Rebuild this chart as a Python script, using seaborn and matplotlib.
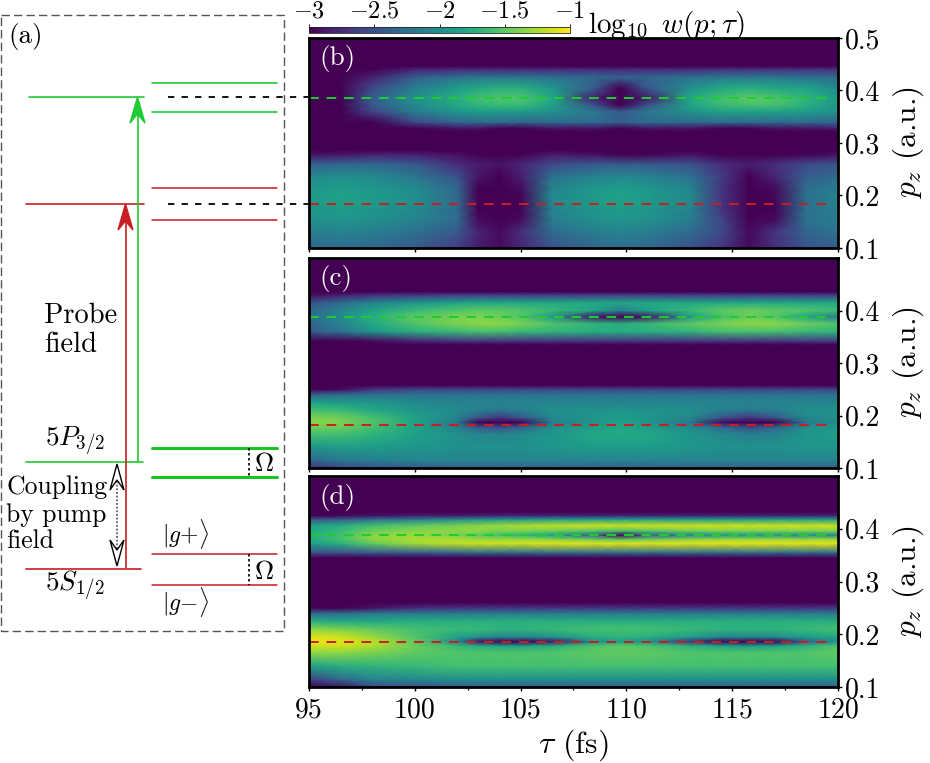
import matplotlib
matplotlib.use("Agg")
import matplotlib.pyplot as plt
import seaborn as sns

W, H = 930, 763

# delay knots shared by the three maps (fs)
tau = [95, 96.5, 98, 100, 102, 103, 104, 105, 106.5, 108.5, 109.7, 111, 113, 114.5, 115.8, 117, 118.5, 120]
off = [-4.0] * len(tau)

# --- panel (b): log10 w, one row per p_z knot ---
b_p = [0.10, 0.13, 0.155, 0.175, 0.19, 0.215, 0.235, 0.26, 0.278, 0.286, 0.322, 0.328, 0.34, 0.36, 0.372, 0.385,
       0.405, 0.425, 0.44, 0.447, 0.50]
b_z = [
    [-2.35, -2.3, -2.35, -2.45, -2.65, -2.85, -2.95, -2.8, -2.5, -2.35, -2.3, -2.35, -2.5, -2.7, -2.95, -2.75, -2.5, -2.4],
    [-2.15, -2.1, -2.15, -2.25, -2.45, -2.8, -2.95, -2.75, -2.3, -2.15, -2.1, -2.15, -2.3, -2.55, -2.95, -2.7, -2.35, -2.25],
    [-2.0, -1.95, -2.0, -2.1, -2.3, -2.95, -3.4, -2.95, -2.15, -2.0, -1.95, -2.0, -2.15, -2.6, -3.4, -2.95, -2.25, -2.15],
    [-1.95, -1.9, -1.95, -2.05, -2.3, -3.15, -3.6, -2.98, -2.1, -1.95, -1.9, -1.95, -2.1, -2.7, -3.6, -3.0, -2.25, -2.15],
    [-1.9, -1.85, -1.9, -2.0, -2.3, -3.15, -3.6, -2.98, -2.05, -1.9, -1.85, -1.9, -2.05, -2.7, -3.6, -2.98, -2.25, -2.1],
    [-1.95, -1.9, -1.95, -2.05, -2.35, -3.05, -3.5, -2.95, -2.1, -1.95, -1.9, -1.95, -2.1, -2.7, -3.5, -2.95, -2.3, -2.15],
    [-2.05, -2.0, -2.05, -2.2, -2.5, -2.9, -3.05, -2.85, -2.25, -2.1, -2.05, -2.1, -2.25, -2.65, -3.05, -2.8, -2.4, -2.3],
    [-2.4, -2.35, -2.35, -2.45, -2.75, -2.85, -2.9, -2.8, -2.55, -2.45, -2.45, -2.45, -2.5, -2.75, -2.85, -2.75, -2.55, -2.5],
    [-2.9, -2.88, -2.82, -2.82, -2.92, -3.02, -3.08, -3.02, -2.85, -2.92, -3.08, -2.98, -2.9, -3.02, -3.12, -3.08, -2.98, -2.92],
    off,
    off,
    [-4, -4, -4, -3.2, -2.9, -2.9, -3.0, -3.0, -2.9, -2.9, -3.0, -2.9, -2.9, -3.0, -3.0, -2.9, -2.9, -2.85],
    [-4, -4, -3.3, -2.55, -2.35, -2.3, -2.3, -2.35, -2.3, -2.3, -2.4, -2.3, -2.3, -2.3, -2.3, -2.3, -2.3, -2.35],
    [-4, -3.6, -2.6, -2.15, -1.95, -1.9, -1.9, -1.9, -2.0, -2.2, -2.45, -2.2, -2.0, -1.85, -1.85, -1.85, -1.9, -2.0],
    [-4, -3.4, -2.45, -2.05, -1.8, -1.7, -1.65, -1.65, -1.85, -2.5, -3.3, -2.5, -1.85, -1.65, -1.6, -1.6, -1.75, -1.95],
    [-4, -3.2, -2.4, -2.0, -1.75, -1.6, -1.55, -1.55, -1.8, -2.85, -3.6, -2.85, -1.8, -1.6, -1.5, -1.55, -1.7, -1.9],
    [-4, -3.4, -2.55, -2.15, -1.9, -1.8, -1.75, -1.75, -1.95, -2.45, -3.05, -2.45, -2.0, -1.8, -1.75, -1.8, -1.85, -2.05],
    [-4, -3.7, -2.8, -2.4, -2.25, -2.2, -2.2, -2.2, -2.25, -2.35, -2.4, -2.35, -2.25, -2.2, -2.2, -2.2, -2.25, -2.3],
    [-4, -4, -3.3, -2.8, -2.75, -2.75, -2.75, -2.75, -2.75, -2.75, -2.75, -2.75, -2.75, -2.7, -2.7, -2.7, -2.7, -2.7],
    off,
    off,
]

# --- panel (c) ---
c_p = [0.10, 0.115, 0.14, 0.165, 0.178, 0.187, 0.197, 0.21, 0.225, 0.24, 0.25, 0.258, 0.335, 0.342, 0.36, 0.375,
       0.388, 0.40, 0.415, 0.43, 0.436, 0.50]
c_z = [
    [-2.75, -2.6, -2.5, -2.45, -2.4, -2.4, -2.4, -2.4, -2.4, -2.4, -2.4, -2.4, -2.4, -2.4, -2.4, -2.4, -2.4, -2.4],
    [-2.35, -2.2, -2.15, -2.1, -2.1, -2.1, -2.1, -2.1, -2.1, -2.1, -2.1, -2.1, -2.1, -2.1, -2.1, -2.1, -2.1, -2.1],
    [-1.95, -1.9, -1.9, -1.95, -2.0, -2.0, -2.0, -2.0, -1.95, -1.9, -1.9, -1.9, -1.95, -2.0, -2.0, -2.0, -1.95, -1.95],
    [-1.6, -1.6, -1.7, -1.85, -2.0, -2.1, -2.1, -2.05, -1.95, -1.8, -1.8, -1.8, -1.95, -2.05, -2.15, -2.1, -1.95, -1.9],
    [-1.45, -1.45, -1.6, -1.85, -2.15, -2.45, -2.55, -2.4, -2.0, -1.9, -1.8, -1.9, -2.05, -2.35, -2.55, -2.4, -2.0, -1.95],
    [-1.35, -1.4, -1.55, -1.85, -2.2, -3.1, -3.6, -3.0, -2.15, -1.95, -1.85, -1.95, -2.2, -2.95, -3.6, -3.0, -2.2, -2.0],
    [-1.4, -1.45, -1.6, -1.85, -2.1, -2.45, -2.65, -2.45, -2.05, -1.95, -1.9, -1.95, -2.05, -2.45, -2.65, -2.45, -2.05, -2.0],
    [-1.6, -1.65, -1.8, -1.95, -2.05, -2.15, -2.2, -2.15, -2.0, -2.0, -1.95, -2.0, -2.0, -2.15, -2.2, -2.15, -2.0, -2.0],
    [-1.85, -1.9, -1.95, -2.05, -2.1, -2.1, -2.1, -2.1, -2.1, -2.1, -2.1, -2.1, -2.1, -2.1, -2.1, -2.1, -2.1, -2.1],
    [-2.4, -2.3, -2.25, -2.25, -2.25, -2.25, -2.25, -2.25, -2.25, -2.25, -2.25, -2.25, -2.25, -2.25, -2.25, -2.25, -2.25, -2.25],
    [-3.0, -2.95, -2.7, -2.6, -2.6, -2.6, -2.6, -2.6, -2.6, -2.6, -2.6, -2.6, -2.6, -2.6, -2.6, -2.6, -2.6, -2.6],
    off,
    off,
    [-3.5, -3.2, -2.95, -2.8, -2.7, -2.7, -2.7, -2.7, -2.7, -2.7, -2.7, -2.7, -2.7, -2.7, -2.7, -2.7, -2.65, -2.65],
    [-2.45, -2.25, -1.95, -1.75, -1.65, -1.6, -1.6, -1.65, -1.7, -1.75, -1.75, -1.75, -1.7, -1.6, -1.6, -1.6, -1.65, -1.7],
    [-2.35, -2.1, -1.8, -1.55, -1.4, -1.35, -1.35, -1.4, -1.55, -1.7, -1.75, -1.65, -1.5, -1.4, -1.35, -1.35, -1.45, -1.55],
    [-2.3, -2.05, -1.75, -1.5, -1.4, -1.4, -1.45, -1.55, -1.95, -2.9, -3.6, -2.9, -1.95, -1.6, -1.45, -1.55, -1.85, -2.15],
    [-2.35, -2.1, -1.85, -1.65, -1.55, -1.5, -1.5, -1.55, -1.65, -1.85, -2.15, -1.85, -1.65, -1.5, -1.45, -1.5, -1.55, -1.65],
    [-2.5, -2.3, -2.1, -1.95, -1.85, -1.8, -1.8, -1.8, -1.8, -1.8, -1.8, -1.8, -1.8, -1.8, -1.8, -1.8, -1.8, -1.8],
    [-2.95, -2.85, -2.75, -2.7, -2.65, -2.65, -2.65, -2.65, -2.65, -2.65, -2.65, -2.65, -2.65, -2.65, -2.65, -2.65, -2.65, -2.65],
    off,
    off,
]

# --- panel (d) ---
d_p = [0.10, 0.115, 0.14, 0.165, 0.178, 0.186, 0.195, 0.21, 0.225, 0.24, 0.25, 0.26, 0.345, 0.355, 0.372, 0.38,
       0.388, 0.396, 0.406, 0.418, 0.425, 0.432, 0.50]
d_z = [
    [-3.5, -2.9, -2.6, -2.5, -2.45, -2.4, -2.4, -2.4, -2.4, -2.4, -2.4, -2.4, -2.4, -2.4, -2.4, -2.4, -2.4, -2.4],
    [-2.6, -2.3, -2.1, -2.05, -2.0, -2.0, -2.0, -2.0, -2.0, -2.0, -2.0, -2.0, -2.0, -2.0, -2.0, -2.0, -2.0, -2.0],
    [-1.85, -1.75, -1.7, -1.65, -1.6, -1.6, -1.6, -1.6, -1.6, -1.6, -1.6, -1.6, -1.6, -1.6, -1.6, -1.6, -1.6, -1.6],
    [-1.35, -1.35, -1.4, -1.5, -1.55, -1.55, -1.55, -1.55, -1.55, -1.5, -1.5, -1.5, -1.55, -1.55, -1.55, -1.55, -1.55, -1.5],
    [-1.15, -1.15, -1.25, -1.45, -1.65, -1.75, -1.85, -1.85, -1.75, -1.55, -1.5, -1.55, -1.7, -1.85, -1.9, -1.85, -1.7, -1.55],
    [-1.05, -1.1, -1.2, -1.5, -2.1, -2.9, -3.6, -3.6, -2.9, -2.0, -1.9, -2.0, -2.7, -3.4, -3.6, -3.3, -2.4, -2.0],
    [-1.1, -1.15, -1.3, -1.55, -1.85, -2.0, -2.1, -2.1, -2.0, -1.75, -1.7, -1.75, -1.9, -2.1, -2.1, -2.05, -1.9, -1.8],
    [-1.35, -1.4, -1.5, -1.6, -1.65, -1.65, -1.7, -1.7, -1.65, -1.6, -1.6, -1.6, -1.65, -1.7, -1.7, -1.7, -1.65, -1.6],
    [-1.75, -1.8, -1.8, -1.75, -1.75, -1.75, -1.75, -1.75, -1.75, -1.75, -1.75, -1.75, -1.75, -1.75, -1.75, -1.75, -1.75, -1.75],
    [-2.35, -2.3, -2.2, -2.2, -2.2, -2.2, -2.2, -2.2, -2.2, -2.2, -2.2, -2.2, -2.2, -2.2, -2.2, -2.2, -2.2, -2.2],
    [-3.1, -3.05, -2.9, -2.75, -2.7, -2.7, -2.7, -2.7, -2.7, -2.7, -2.7, -2.7, -2.7, -2.7, -2.7, -2.7, -2.7, -2.7],
    off,
    off,
    [-2.5, -2.5, -2.45, -2.4, -2.35, -2.3, -2.3, -2.3, -2.3, -2.3, -2.3, -2.3, -2.3, -2.3, -2.3, -2.3, -2.3, -2.3],
    [-1.9, -1.75, -1.5, -1.3, -1.2, -1.15, -1.15, -1.15, -1.1, -1.1, -1.1, -1.1, -1.1, -1.1, -1.1, -1.1, -1.1, -1.1],
    [-1.8, -1.6, -1.35, -1.25, -1.25, -1.3, -1.3, -1.3, -1.35, -1.45, -1.5, -1.45, -1.35, -1.3, -1.3, -1.3, -1.3, -1.3],
    [-1.75, -1.6, -1.35, -1.3, -1.4, -1.5, -1.6, -1.7, -1.9, -2.4, -3.4, -2.4, -2.1, -2.0, -1.95, -2.0, -2.05, -2.1],
    [-1.8, -1.65, -1.45, -1.35, -1.35, -1.35, -1.4, -1.4, -1.45, -1.55, -1.6, -1.55, -1.45, -1.4, -1.4, -1.4, -1.4, -1.4],
    [-1.85, -1.75, -1.6, -1.5, -1.4, -1.35, -1.3, -1.25, -1.2, -1.15, -1.15, -1.15, -1.15, -1.15, -1.15, -1.15, -1.15, -1.15],
    [-2.5, -2.45, -2.3, -2.2, -2.05, -2.0, -1.95, -1.95, -1.9, -1.9, -1.9, -1.9, -1.9, -1.9, -1.9, -1.9, -1.9, -1.9],
    [-3.0, -2.95, -2.9, -2.85, -2.85, -2.85, -2.8, -2.8, -2.8, -2.8, -2.8, -2.8, -2.8, -2.8, -2.8, -2.8, -2.8, -2.8],
    off,
    off,
]

# measured p_z of the two dashed guide lines in each map
green_p = [0.386, 0.388, 0.388]
red_p = [0.184, 0.182, 0.186]

x_ticks = [95, 100, 105, 110, 115, 120]
cbar_ticks = [-3, -2.5, -2, -1.5, -1]
cbar_labels = ["$-3$", "$-2.5$", "$-2$", "$-1.5$", "$-1$"]

GREEN = "#1fcc33"
RED = "#c81e24"

sns.set_theme(style="ticks")
plt.rcParams["font.family"] = "cmr10"
plt.rcParams["mathtext.fontset"] = "cm"
plt.rcParams["axes.formatter.use_mathtext"] = True
plt.rcParams["axes.unicode_minus"] = False
plt.rcParams["text.color"] = "black"
plt.rcParams["axes.labelcolor"] = "black"
plt.rcParams["xtick.labelcolor"] = "black"
plt.rcParams["ytick.labelcolor"] = "black"
cmap = sns.color_palette("viridis", as_cmap=True)


def px_axes(fig, x0, y0, x1, y1, **kw):
    return fig.add_axes([x0 / W, 1 - y1 / H, (x1 - x0) / W, (y1 - y0) / H], **kw)


def stealth(ax, x, y, sign, color, w=7.5, ln=26, notch=17, **kw):
    ax.fill([x, x - w, x, x + w], [y, y + sign * ln, y + sign * notch, y + sign * ln], color=color, **kw)


fig = plt.figure(figsize=(W / 100, H / 100), dpi=100)

# --- schematic (a), laid out in image pixels ---
sk = px_axes(fig, 0, 0, W, H, zorder=5)
sk.set_xlim(0, W)
sk.set_ylim(H, 0)
sk.axis("off")
sk.patch.set_alpha(0)

sk.plot([1, 284, 284, 1, 1], [15, 15, 631, 631, 15], color="#555555", lw=1.0, dashes=(6, 3))

# levels on the left
sk.plot([29, 144], [97, 97], color=GREEN, lw=1.2)
sk.plot([26, 144], [203.5, 203.5], color=RED, lw=1.2)
sk.plot([26, 143], [462, 462], color=GREEN, lw=1.2)
sk.plot([26, 141], [568.5, 568.5], color=RED, lw=1.2)

# dressed levels on the right
for y in [83, 112]:
    sk.plot([152, 277], [y, y], color=GREEN, lw=1.2)
for y in [188, 220, 554, 585]:
    sk.plot([152, 277], [y, y], color=RED, lw=1.1)
for y in [448, 477]:
    sk.plot([152, 277], [y, y], color="#17c424", lw=2.2)
for y0, y1 in [(448, 477), (554, 585)]:
    sk.plot([249, 249], [y0, y1], color="black", lw=1.2, dashes=(1.5, 1.5))

# black connectors into panel (b)
for y in [97, 204]:
    sk.plot([168, 309], [y, y], color="black", lw=1.3, dashes=(3.5, 4))

# probe arrows
sk.plot([125.5, 125.5], [568, 215], color=RED, lw=1.2)
stealth(sk, 125.5, 204, 1, RED)
sk.plot([137.5, 137.5], [462, 110], color=GREEN, lw=1.2)
stealth(sk, 137.5, 97, 1, GREEN)

# pump coupling arrow
sk.plot([117, 117], [470, 560], color="#444444", lw=1.1, dashes=(1.2, 1.2))
stealth(sk, 117, 464, 1, "white", w=7, ln=26, notch=16, ec="black", lw=1.0, zorder=4)
stealth(sk, 117, 566, -1, "white", w=7, ln=26, notch=16, ec="black", lw=1.0, zorder=4)

fs = 19.5
sk.text(8, 36, "(a)", fontsize=fs, va="center")
sk.text(44, 316, "Probe", fontsize=20.5, va="center")
sk.text(44, 345, "field", fontsize=20.5, va="center")
sk.text(45, 441, r"$5P_{3/2}$", fontsize=fs, va="center")
sk.text(45, 585, r"$5S_{1/2}$", fontsize=fs, va="center")
sk.text(6, 487, "Coupling", fontsize=18.5, va="center")
sk.text(6, 515, "by pump", fontsize=18.5, va="center")
sk.text(6, 541, "field", fontsize=18.5, va="center")
sk.text(162, 534, r"$|g{+}\rangle$", fontsize=17, va="center")
sk.text(162, 602, r"$|g{-}\rangle$", fontsize=17, va="center")
sk.text(254, 464, r"$\mathit{\Omega}$", fontsize=19, va="center")
sk.text(254, 572, r"$\mathit{\Omega}$", fontsize=19, va="center")

# --- maps ---
boxes = [(38, 248), (258, 468), (476, 687)]
grids = [(b_p, b_z), (c_p, c_z), (d_p, d_z)]
names = ["(b)", "(c)", "(d)"]
mesh = None
for i, (box, (p, z)) in enumerate(zip(boxes, grids)):
    ax = px_axes(fig, 309, box[0], 838, box[1])
    mesh = ax.pcolormesh(tau, p, z, shading="gouraud", cmap=cmap, vmin=-3, vmax=-1)
    sns.lineplot(x=[95, 119.8], y=[green_p[i]] * 2, color=GREEN, lw=1.4, linestyle=(0, (5, 4)), ax=ax)
    sns.lineplot(x=[95, 119.8], y=[red_p[i]] * 2, color=RED, lw=1.4, linestyle=(0, (5, 4)), ax=ax)
    ax.set_xlim(95, 120)
    ax.set_ylim(0.1, 0.5)
    ax.yaxis.tick_right()
    ax.yaxis.set_label_position("right")
    ax.set_xticks(x_ticks)
    ax.set_yticks([0.1, 0.2, 0.3, 0.4, 0.5] if i == 0 else [0.1, 0.2, 0.3, 0.4])
    ax.set_yticklabels(["0.1", "0.2", "0.3", "0.4", "0.5"] if i == 0 else ["0.1", "0.2", "0.3", "0.4"])
    ax.tick_params(axis="both", length=3, width=1.0, color="black", labelsize=20, pad=2)
    ax.set_ylabel(r"$p_z$ (a.u.)", fontsize=22.5, rotation=90, labelpad=7)
    for s in ax.spines.values():
        s.set_color("black")
        s.set_linewidth(2.0)
    ax.text(0.02, 0.90, names[i], transform=ax.transAxes, color="white", fontsize=fs, va="center")
    if i < 2:
        ax.set_xticklabels([])
    else:
        ax.set_xticks([97.5, 102.5, 107.5, 112.5, 117.5], minor=True)
        ax.tick_params(axis="x", which="minor", length=2, width=0.9, color="black")
        ax.set_xticklabels([str(v) for v in x_ticks])
        ax.tick_params(axis="x", pad=4)
        ax.set_xlabel(r"$\tau$ (fs)", fontsize=23, labelpad=3)

# --- colourbar above panel (b) ---
cax = px_axes(fig, 309, 27, 570, 33)
cb = fig.colorbar(mesh, cax=cax, orientation="horizontal")
cb.set_ticks(cbar_ticks)
cb.set_ticklabels(cbar_labels)
cax.xaxis.set_ticks_position("top")
cax.tick_params(axis="x", length=2, width=0.7, labelsize=17.5, pad=1)
cb.outline.set_linewidth(0.6)
sk.text(588, 25, r"$\log_{10}\ w(p;\tau)$", fontsize=21, va="center")

fig.savefig("out.png", dpi=100)
